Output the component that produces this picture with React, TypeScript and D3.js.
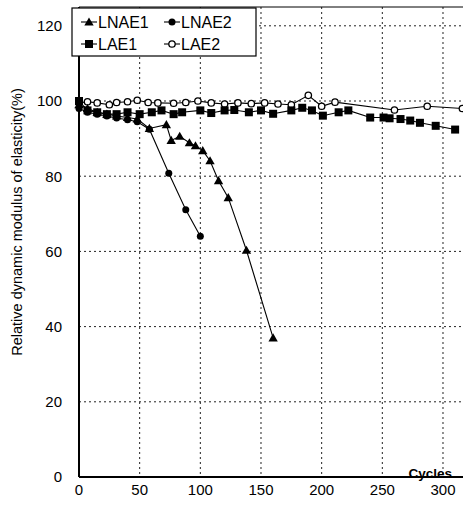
import React, { useRef, useEffect } from 'react'
import * as d3 from 'd3'

type Pt = [number, number]

// cycles, relative dynamic modulus (%)
const lnae1: Pt[] = [
  [0, 99], [7, 98], [15, 97], [23, 96.5], [31, 96], [40, 95.6], [48, 95.2],
  [58, 92.7], [72, 93.7], [76, 89.5], [83, 90.6], [91, 88.9], [96, 88.1],
  [102, 86.8], [108, 84.1], [115, 78.8], [123, 74.3], [138, 60.3], [160, 37],
]
const lnae2: Pt[] = [
  [0, 98], [7, 97], [15, 96.5], [23, 96], [31, 95.5], [40, 95], [48, 94.5],
  [58, 92.5], [74, 80.8], [88, 71.1], [100, 64],
]
const lae1: Pt[] = [
  [0, 100], [7, 97.5], [15, 97], [23, 96.5], [31, 96.5], [40, 97], [50, 96.5],
  [60, 97], [68, 97.5], [78, 96.5], [85, 97], [100, 97.5], [109, 96.8],
  [120, 97.5], [128, 97.6], [140, 97], [150, 97.5], [160, 96.6], [175, 97.5],
  [184, 98.2], [192, 97.5], [201, 96.1], [214, 97], [222, 97.5], [240, 95.6],
  [251, 95.6], [256, 95.4], [265, 95.2], [273, 94.8], [281, 94.2], [294, 93.4],
  [310, 92.4],
]
const lae2: Pt[] = [
  [0, 99.5], [7, 99.8], [15, 99.5], [25, 99], [31, 99.6], [40, 99.8],
  [48, 100.2], [57, 99.6], [65, 99.5], [78, 99.4], [88, 99.6], [98, 100],
  [109, 99.5], [120, 99.2], [131, 99.5], [142, 99.3], [153, 99.5], [164, 99.2],
  [175, 99], [189, 101.5], [200, 98.6], [211, 99.7], [260, 97.6], [287, 98.6],
  [316, 98],
]
const xTicks = [0, 50, 100, 150, 200, 250, 300]
const yTicks = [0, 20, 40, 60, 80, 100, 120]

export default function App() {
  const ref = useRef<SVGSVGElement>(null)

  useEffect(() => {
    const svg = d3.select(ref.current)
    svg.selectAll('*').remove()

    const width = 463
    const height = 505
    const margin = { top: 7, right: 0, bottom: 28, left: 79 }
    const innerW = width - margin.left - margin.right
    const innerH = height - margin.top - margin.bottom

    const x = d3.scaleLinear().domain([0, innerW / 1.2133]).range([0, innerW])
    const y = d3.scaleLinear().domain([0, 125]).range([innerH, 0])

    const g = svg.append('g').attr('transform', `translate(${margin.left},${margin.top})`)

    // grid
    g.selectAll('.vg')
      .data(xTicks.filter((d) => d > 0))
      .join('line')
      .attr('x1', (d) => x(d)).attr('x2', (d) => x(d))
      .attr('y1', 0).attr('y2', innerH)
      .attr('stroke', '#222').attr('stroke-width', 1).attr('stroke-dasharray', '2,3')
    g.selectAll('.hg')
      .data(yTicks.filter((d) => d > 0))
      .join('line')
      .attr('x1', 0).attr('x2', innerW)
      .attr('y1', (d) => y(d)).attr('y2', (d) => y(d))
      .attr('stroke', '#222').attr('stroke-width', 1).attr('stroke-dasharray', '2,3')

    // frame
    g.append('line').attr('x1', 0).attr('x2', innerW).attr('y1', 0).attr('y2', 0)
      .attr('stroke', '#000').attr('stroke-width', 1)

    const line = d3.line<Pt>().x((d) => x(d[0])).y((d) => y(d[1]))

    const series = [
      { name: 'LAE2', data: lae2, marker: 'open' },
      { name: 'LAE1', data: lae1, marker: 'square' },
      { name: 'LNAE2', data: lnae2, marker: 'circle' },
      { name: 'LNAE1', data: lnae1, marker: 'triangle' },
    ]

    const drawMarker = (sel: any, kind: string, cx: number, cy: number) => {
      if (kind === 'square') {
        sel.append('rect').attr('x', cx - 4).attr('y', cy - 4)
          .attr('width', 8).attr('height', 8).attr('fill', '#000')
      } else if (kind === 'circle') {
        sel.append('circle').attr('cx', cx).attr('cy', cy).attr('r', 3.5).attr('fill', '#000')
      } else if (kind === 'triangle') {
        sel.append('path')
          .attr('d', d3.symbol(d3.symbolTriangle, 38)())
          .attr('transform', `translate(${cx},${cy + 0.8})`)
          .attr('fill', '#000')
      } else {
        sel.append('circle').attr('cx', cx).attr('cy', cy).attr('r', 3.2)
          .attr('fill', '#fff').attr('stroke', '#000').attr('stroke-width', 1.3)
      }
    }

    series.forEach((s) => {
      g.append('path').datum(s.data).attr('fill', 'none')
        .attr('stroke', '#000').attr('stroke-width', 1.1).attr('d', line)
      const mg = g.append('g')
      s.data.forEach((d) => drawMarker(mg, s.marker, x(d[0]), y(d[1])))
    })

    // axes lines
    g.append('line').attr('x1', 0).attr('x2', 0).attr('y1', 0).attr('y2', innerH)
      .attr('stroke', '#000').attr('stroke-width', 2)
    g.append('line').attr('x1', 0).attr('x2', innerW).attr('y1', innerH).attr('y2', innerH)
      .attr('stroke', '#000').attr('stroke-width', 2)

    const font = 'Liberation Sans, Arial, sans-serif'
    g.selectAll('.yl').data(yTicks).join('text')
      .attr('x', -17).attr('y', (d) => y(d)).attr('dy', '0.36em')
      .attr('text-anchor', 'end').attr('font-family', font).attr('font-size', 15)
      .text((d) => d)
    g.selectAll('.xl').data(xTicks).join('text')
      .attr('x', (d) => x(d)).attr('y', innerH + 18)
      .attr('text-anchor', 'middle').attr('font-family', font).attr('font-size', 15)
      .text((d) => d)

    svg.append('text')
      .attr('transform', `translate(22,${222}) rotate(-90)`)
      .attr('text-anchor', 'middle').attr('font-family', font).attr('font-size', 14.5)
      .text('Relative dynamic modulus of elasticity(%)')

    g.append('text')
      .attr('x', x(300) + 9).attr('y', innerH + 1)
      .attr('text-anchor', 'end').attr('font-family', font).attr('font-size', 13.5)
      .attr('font-weight', 'bold').text('Cycles')

    // legend
    const lg = svg.append('g').attr('transform', 'translate(72,8)')
    lg.append('rect').attr('width', 184).attr('height', 48)
      .attr('fill', '#fff').attr('stroke', '#000').attr('stroke-width', 1.2)
    const items = [
      { name: 'LNAE1', marker: 'triangle', cx: 17, cy: 14 },
      { name: 'LNAE2', marker: 'circle', cx: 100, cy: 14 },
      { name: 'LAE1', marker: 'square', cx: 17, cy: 36 },
      { name: 'LAE2', marker: 'open', cx: 100, cy: 36 },
    ]
    items.forEach((it) => {
      lg.append('line').attr('x1', it.cx - 8).attr('x2', it.cx + 8)
        .attr('y1', it.cy).attr('y2', it.cy).attr('stroke', '#000').attr('stroke-width', 1.1)
      drawMarker(lg, it.marker, it.cx, it.cy)
      lg.append('text').attr('x', it.cx + 9).attr('y', it.cy).attr('dy', '0.36em')
        .attr('font-family', font).attr('font-size', 16).text(it.name)
    })
  }, [])

  return (
    <svg
      ref={ref}
      width={463}
      height={505}
      style={{ position: 'absolute', left: 0, top: 0, background: '#fff' }}
    ></svg>
  )
}
